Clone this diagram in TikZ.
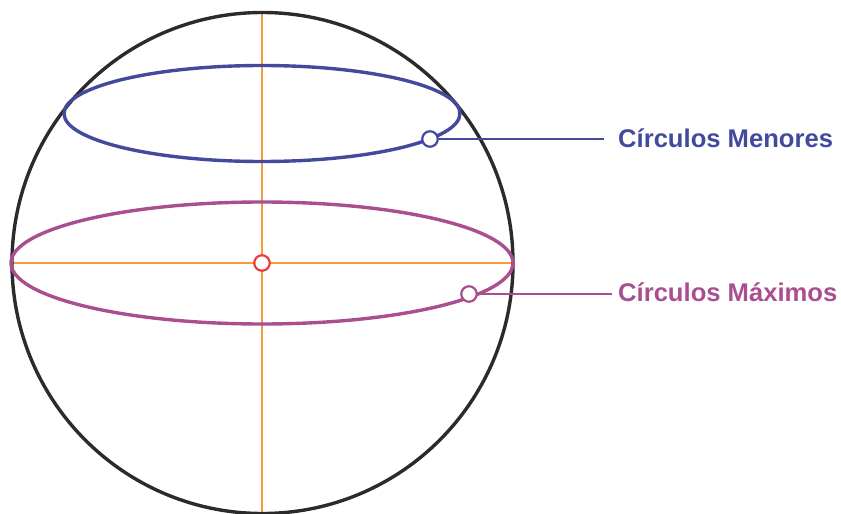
\documentclass[tikz,border=0pt]{standalone}
\usepackage{fontspec}
\setmainfont{Liberation Sans}
\definecolor{blu}{HTML}{434A9E}
\definecolor{mag}{HTML}{A94F8F}
\definecolor{org}{HTML}{F89A3C}
\definecolor{blk}{HTML}{2B2B2B}
\definecolor{redd}{HTML}{EE3B3B}
\tikzset{x=1pt,y=-1pt,
 axisline/.style={draw=org,line width=2.2pt},
 ring/.style={line width=3.4pt},
 leader/.style={line width=2.2pt},
 dot/.style={circle,fill=white,draw=#1,line width=2.2pt,minimum size=15.5pt,inner sep=0pt},
 lab/.style={font=\bfseries\fontsize{25.6pt}{30pt}\selectfont,anchor=west,inner sep=0pt}}
\begin{document}
\begin{tikzpicture}
\useasboundingbox (0,0) rectangle (841,514);
\coordinate (top) at (262,13);
\coordinate (bot) at (262,513);
\coordinate (lft) at (12,263);
\coordinate (rgt) at (513,263);
\draw[axisline] (top) -- (bot);
\draw[axisline] (lft) -- (rgt);
\draw[blk,ring] (262.5,263) circle [radius=250.5];
\draw[blu,ring] (262,113.5) ellipse [x radius=198,y radius=48];
\draw[mag,ring] (262,263) ellipse [x radius=251,y radius=61];
\node[dot=redd] (c) at (262,263) {};
\node[lab,text=blu] (t1) at (618,138) {Círculos Menores};
\node[lab,text=mag] (t2) at (618,292) {Círculos Máximos};
\coordinate (e1) at (604,139);
\coordinate (e2) at (612,294);
\node[dot=blu] (d1) at (430,139) {};
\node[dot=mag] (d2) at (469,294) {};
\draw[blu,leader] (d1) -- (e1);
\draw[mag,leader] (d2) -- (e2);
\end{tikzpicture}
\end{document}
